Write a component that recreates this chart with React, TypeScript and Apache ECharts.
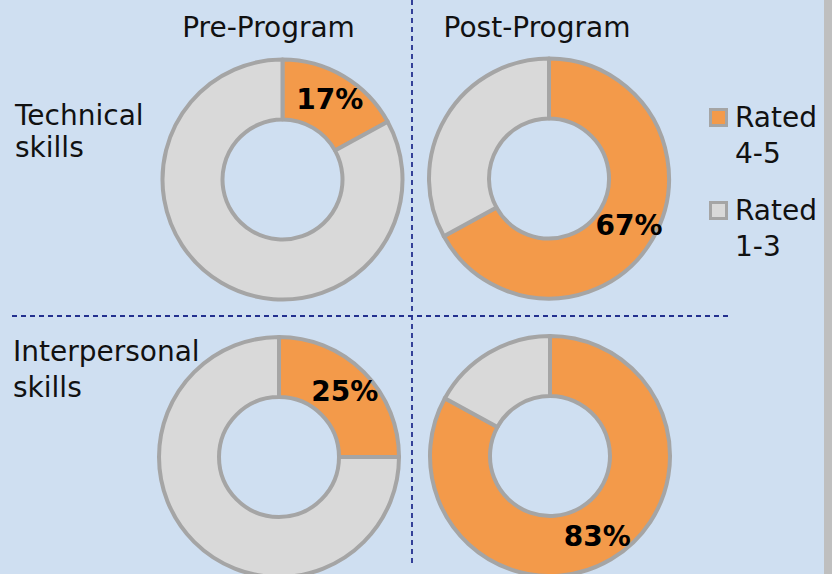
import React, { useEffect, useRef } from "react";
import * as echarts from "echarts";

// ---- data ----
const columnTitles = ["Pre-Program", "Post-Program"];
const rowTitles = [["Technical", "skills"], ["Interpersonal", "skills"]];
const categories = ["Rated 4-5", "Rated 1-3"];
const technicalPre = [17, 83];
const technicalPost = [67, 33];
const interpersonalPre = [25, 75];
const interpersonalPost = [83, 17];

const ORANGE = "#f39a4a";
const GRAY = "#d9d9d9";
const BORDER = "#a5a5a5";
const BG = "#cfdff1";
const DASH = "#23308f";
const FONT = "DejaVu Sans";

const pies = [
  { values: technicalPre, center: [282.5, 179.5] },
  { values: technicalPost, center: [549, 178.5] },
  { values: interpersonalPre, center: [279, 457] },
  { values: interpersonalPost, center: [550, 456] },
];

export default function App() {
  const ref = useRef<HTMLDivElement>(null);
  useEffect(() => {
    if (!ref.current) return;
    const chart = echarts.init(ref.current, null, { renderer: "svg" });
    const colors = [ORANGE, GRAY];
    const series = pies.map((p) => ({
      type: "pie",
      center: p.center,
      radius: [60, 120],
      startAngle: 90,
      clockwise: true,
      silent: true,
      avoidLabelOverlap: false,
      label: { show: false },
      labelLine: { show: false },
      emphasis: { disabled: true },
      itemStyle: { borderColor: BORDER, borderWidth: 4 },
      data: p.values.map((v, i) => ({
        name: categories[i],
        value: v,
        itemStyle: { color: colors[i] },
        label:
          i === 0
            ? {
                show: true,
                position: "inside",
                formatter: (q: any) => q.value + "%",
                fontFamily: FONT,
                fontWeight: "bold",
                fontSize: 28,
                color: "#000",
              }
            : { show: false },
      })),
    }));

    const textStyle = (extra: any) => ({
      fontFamily: FONT,
      fontSize: 28,
      fill: "#111",
      verticalAlign: "middle",
      ...extra,
    });

    const graphic: any[] = [
      { type: "rect", shape: { x: 824, y: 0, width: 8, height: 574 }, style: { fill: "#bfbfbf" } },
      {
        type: "line",
        shape: { x1: 412, y1: 0, x2: 412, y2: 567 },
        style: { stroke: DASH, lineWidth: 1.8, lineDash: [5, 4] },
      },
      {
        type: "line",
        shape: { x1: 12, y1: 316, x2: 729, y2: 316 },
        style: { stroke: DASH, lineWidth: 1.8, lineDash: [5, 4] },
      },
      { type: "text", x: 268.5, y: 27, style: textStyle({ text: columnTitles[0], align: "center" }) },
      { type: "text", x: 537, y: 27, style: textStyle({ text: columnTitles[1], align: "center" }) },
      { type: "text", x: 15, y: 115.5, style: textStyle({ text: rowTitles[0][0], align: "left" }) },
      { type: "text", x: 15, y: 147.5, style: textStyle({ text: rowTitles[0][1], align: "left" }) },
      { type: "text", x: 13, y: 351.5, style: textStyle({ text: rowTitles[1][0], align: "left" }) },
      { type: "text", x: 13, y: 387, style: textStyle({ text: rowTitles[1][1], align: "left" }) },
    ];
    const legendTops = [109.5, 202.5];
    categories.forEach((c, i) => {
      const [w1, w2] = c.split(" ");
      const top = legendTops[i];
      graphic.push({
        type: "rect",
        shape: { x: 710.5, y: top, width: 16, height: 16 },
        style: { fill: colors[i], stroke: BORDER, lineWidth: 3 },
      });
      graphic.push({ type: "text", x: 735, y: top + 7.5, style: textStyle({ text: w1, align: "left" }) });
      graphic.push({ type: "text", x: 735, y: top + 43.5, style: textStyle({ text: w2, align: "left" }) });
    });

    chart.setOption({
      animation: false,
      backgroundColor: BG,
      series,
      graphic,
    });
    return () => chart.dispose();
  }, []);
  return (
    <div
      ref={ref}
      style={{ position: "fixed", left: 0, top: 0, width: 832, height: 574 }}
    />
  );
}
